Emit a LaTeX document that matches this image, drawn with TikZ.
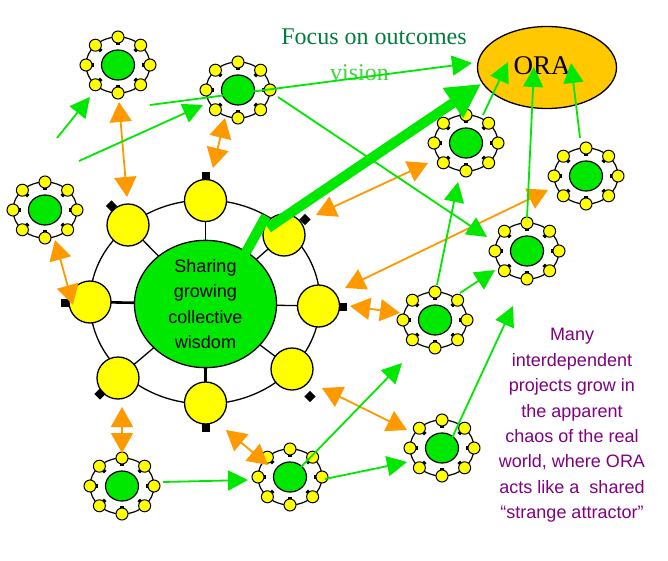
\documentclass[tikz,border=0pt]{standalone}
\usepackage{fontspec}
\setmainfont{Liberation Serif}
\setsansfont{Liberation Sans}
\usetikzlibrary{arrows.meta,shapes.geometric}
\definecolor{grn}{RGB}{0,232,0}
\definecolor{yel}{RGB}{255,255,0}
\definecolor{org}{RGB}{255,153,0}
\definecolor{oraf}{RGB}{255,200,0}
\definecolor{focus}{RGB}{0,125,60}
\definecolor{visg}{RGB}{60,215,60}
\definecolor{purp}{RGB}{128,0,128}
\pgfdeclarelayer{bg}
\pgfsetlayers{bg,main}
\tikzset{
  ringline/.style={draw=black, line width=1.3pt},
  spoke/.style={draw=black, line width=1.3pt},
  hubdot/.style={circle, draw=black, fill=yel, minimum size=42pt, inner sep=0pt, line width=1.3pt},
  hubcore/.style={ellipse, draw=black, fill=grn, minimum width=142pt, minimum height=125pt, inner sep=0pt, line width=1.3pt},
  hubsq/.style={rectangle, fill=black, minimum size=8pt, inner sep=0pt},
  smalldot/.style={circle, draw=black, fill=yel, minimum size=12pt, inner sep=0pt, line width=1pt},
  projcore/.style={ellipse, draw=black, fill=grn, minimum width=33pt, minimum height=30pt, inner sep=0pt, line width=1.2pt},
  garrow/.style={draw=grn, line width=1.8pt, -{Triangle[length=20pt,width=20pt]}},
  oarrow/.style={draw=org, line width=1.8pt, {Triangle[length=20pt,width=22pt]}-{Triangle[length=20pt,width=22pt]}},
  bigarrow/.style={draw=grn, line width=10pt, -{Triangle[length=34pt,width=34pt]}},
  bigline/.style={draw=grn, line width=10pt},
  proj/.pic={
    \draw[line width=1.2pt] (0,0) ellipse [x radius=32pt, y radius=28pt];
    \foreach \a in {0,45,...,315} {
      \fill[shift={({25.5*cos(\a)},{21.5*sin(\a)})}, rotate=-\a] (-1.8,-1.8) rectangle (1.8,1.8);
      \node[smalldot] (-d\a) at ({32*cos(\a)},{28*sin(\a)}) {};
    }
    \node[projcore] (-c) at (0,0) {};
  }
}
\begin{document}
\begin{tikzpicture}[x=1pt,y=-1pt]
\useasboundingbox (0,0) rectangle (668,561);

% ---- hub ----
\node[hubcore, align=center, font=\sffamily\fontsize{18}{25.6}\selectfont] (hub) at (205.5,304) {Sharing\\growing\\collective\\wisdom};
\node[hubdot] (h1) at (205.5,200.5) {};
\node[hubdot] (h2) at (284,235) {};
\node[hubdot] (h3) at (318.5,306) {};
\node[hubdot] (h4) at (292,369) {};
\node[hubdot] (h5) at (205.5,403) {};
\node[hubdot] (h6) at (118,378) {};
\node[hubdot] (h7) at (90,302) {};
\node[hubdot] (h8) at (128,225) {};
\node[hubsq] (s1) at (205.5,176.5) {};
\node[hubsq, rotate=45] (s2) at (305,219.5) {};
\node[hubsq] (s3) at (343,306.5) {};
\node[hubsq, rotate=45] (s4) at (310,396.5) {};
\node[hubsq] (s5) at (206,428) {};
\node[hubsq, rotate=45] (s6) at (100,394) {};
\node[hubsq] (s7) at (65,302.5) {};
\node[hubsq, rotate=45] (s8) at (111.5,206) {};
\begin{pgfonlayer}{bg}
  \fill[white] (0,0) rectangle (668,561);
  \draw[ringline] (205,302) ellipse [x radius=115pt, y radius=102pt];
  \draw[spoke] (hub.center) -- (h1.center);
  \draw[spoke] (hub.center) -- (h2.center);
  \draw[spoke] (hub.center) -- (h3.center);
  \draw[spoke] (hub.center) -- (h4.center);
  \draw[spoke, line width=2.2pt] (hub.center) -- (h5.center);
  \draw[spoke] (hub.center) -- (h6.center);
  \draw[spoke, line width=2.6pt] (hub.center) -- (h7.center);
  \draw[spoke] (hub.center) -- (h8.center);
\end{pgfonlayer}

% ---- projects ----
\pic (c1) at (118,65) {proj};
\pic (c2) at (238,90) {proj};
\pic (c3) at (45,210) {proj};
\pic (c4) at (466,143) {proj};
\pic (c5) at (586,176) {proj};
\pic (c6) at (527,251) {proj};
\pic (c7) at (435,320) {proj};
\pic (c8) at (442,448) {proj};
\pic (c9) at (122,486) {proj};
\pic (c10) at (290,477) {proj};

% ---- ORA and texts ----
\node[ellipse, draw=black, fill=oraf, line width=1.3pt, minimum width=139pt, minimum height=82pt, inner sep=0pt] (ora) at (547,67.5) {};
\node[font=\fontsize{27}{30}\selectfont, anchor=base] (oratxt) at (542,75) {ORA};
\node[font=\fontsize{24}{28}\selectfont, text=focus, anchor=base] (focustxt) at (374,45) {Focus on outcomes};
\node[font=\fontsize{24}{28}\selectfont, text=visg, anchor=base west, inner sep=0pt] (vistxt) at (330,81) {vision};
\node[font=\sffamily\fontsize{18}{25.4}\selectfont, text=purp, align=center] (many) at (572,425.5)
  {Many\\interdependent\\projects grow in\\the apparent\\chaos of the real\\world, where ORA\\acts like a\ \ shared\\“strange attractor”};

% ---- endpoints ----
\coordinate (g1a) at (57,138);   \coordinate (g1b) at (90,97);
\coordinate (g2a) at (79,161);   \coordinate (g2b) at (203,105);
\coordinate (g3a) at (150,105);  \coordinate (g3b) at (472,63);
\coordinate (g4a) at (278,97);   \coordinate (g4b) at (487,237);
\coordinate (g5a) at (483,115);  \coordinate (g5b) at (508,62);
\coordinate (g6a) at (527,218);  \coordinate (g6b) at (534,67);
\coordinate (g7a) at (580,138);  \coordinate (g7b) at (571,63);
\coordinate (g8a) at (437,285);  \coordinate (g8b) at (458,182);
\coordinate (g9a) at (460,293);  \coordinate (g9b) at (495,270);
\coordinate (g10a) at (163,482); \coordinate (g10b) at (248,480);
\coordinate (g11a) at (301,467); \coordinate (g11b) at (402,363);
\coordinate (g12a) at (325,479); \coordinate (g12b) at (407,462);
\coordinate (g13a) at (452,438); \coordinate (g13b) at (513,306);
\coordinate (t1) at (245,254);   \coordinate (t2) at (266,216);
\coordinate (t3) at (268,228);   \coordinate (t4) at (481,84);
\coordinate (o1a) at (119,102);  \coordinate (o1b) at (127,197);
\coordinate (o2a) at (225,118);  \coordinate (o2b) at (213,168);
\coordinate (o3a) at (55,240);   \coordinate (o3b) at (73,305);
\coordinate (o4a) at (316,215);  \coordinate (o4b) at (428,163);
\coordinate (o5a) at (345,288);  \coordinate (o5b) at (548,190);
\coordinate (o6a) at (350,306);  \coordinate (o6b) at (400,313);
\coordinate (o7a) at (322,388);  \coordinate (o7b) at (407,430);
\coordinate (o8a) at (122,407);  \coordinate (o8b) at (122,453);
\coordinate (o9a) at (226,430);  \coordinate (o9b) at (268,465);

% ---- orange links ----
\foreach \i in {1,...,9} { \draw[oarrow] (o\i a) -- (o\i b); }

% ---- green links ----
\foreach \i in {1,...,13} { \draw[garrow] (g\i a) -- (g\i b); }

% ---- thick arrow ----
\draw[bigline] (t1) -- (t2);
\draw[bigarrow] (t3) -- (t4);
\end{tikzpicture}
\end{document}
